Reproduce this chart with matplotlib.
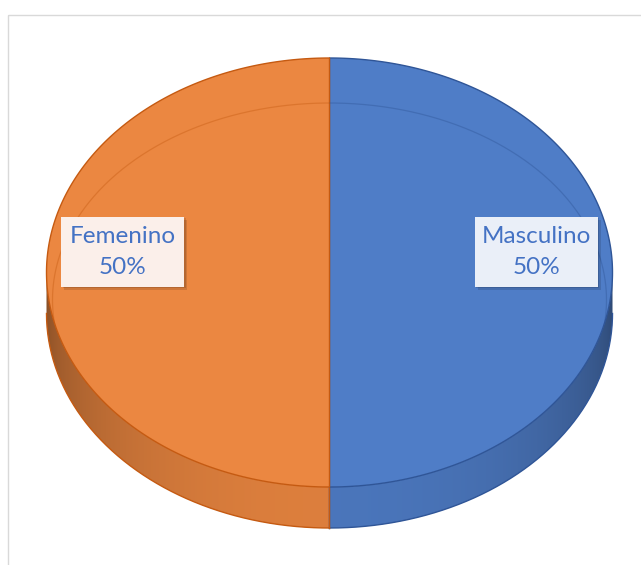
import numpy as np
import matplotlib
matplotlib.use("Agg")
import matplotlib.pyplot as plt
from matplotlib.patches import Polygon, Rectangle
from matplotlib.colors import to_rgb

plt.rcParams['font.family'] = ['Lato', 'DejaVu Sans']

# Data
categories = ["Masculino", "Femenino"]
values = [50, 50]
top_colors = ["#4F7DC7", "#EB8741"]
edge_colors = ["#2F5597", "#C55A11"]
label_fills = ["#EAEFF8", "#FBEFEA"]
text_color = "#4472C4"

W, H = 641, 565
fig = plt.figure(figsize=(W / 100, H / 100), dpi=100)
ax = fig.add_axes([0, 0, 1, 1])
ax.set_xlim(0, W)
ax.set_ylim(H, 0)
ax.axis("off")

# chart frame
ax.add_patch(Rectangle((7.5, 14.5), 700, 700, fill=False, edgecolor="#D9D9D9", lw=1.0, zorder=0))

# 3D pie geometry (pixel space, y downward)
cx, cy, a, b, depth = 329.5, 272.5, 283.0, 214.5, 41.0


def pt(t_deg, dy=0.0):
    t = np.radians(t_deg)
    return cx + a * np.cos(t), cy - b * np.sin(t) + dy


total = float(sum(values))
angles = []
start = 90.0
for v in values:
    sweep = 360.0 * v / total
    angles.append((start - sweep, start))
    start -= sweep

# shading of the side wall across x
xs = np.linspace(0, W, W + 1)
u = np.clip((xs - cx) / a, -1, 1)
face = np.sqrt(1 - u ** 2)
shade = 0.58 + 0.36 * face

for (t1, t2), col, ecol in zip(angles, top_colors, edge_colors):
    # side wall: the front half of each wedge (angles between 180 and 360)
    pieces = []
    for off in (-360, 0, 360):
        s = max(t1 + off, 180)
        e = min(t2 + off, 360)
        if e > s:
            pieces.append((s, e))
    for s, e in pieces:
        ts = np.linspace(s, e, 200)
        upper = [pt(t) for t in ts]
        lower = [pt(t, depth) for t in ts[::-1]]
        poly = Polygon(upper + lower, closed=True, facecolor="none", edgecolor="none")
        ax.add_patch(poly)
        rgb = np.array(to_rgb(col))
        img = (shade[:, None] * rgb[None, :])[None, :, :]
        im = ax.imshow(img, extent=(0, W, H, 0), aspect="auto", interpolation="bilinear", zorder=1)
        im.set_clip_path(poly)
        bx = [pt(t, depth) for t in ts]
        ax.plot([p[0] for p in bx], [p[1] for p in bx], color=ecol, lw=1.0, zorder=2)
        # vertical seams on the wall
        for tt in (s, e):
            if 180 < tt < 360:
                x0, y0 = pt(tt)
                ax.plot([x0, x0], [y0, y0 + depth], color=ecol, lw=1.0, zorder=2)

    # top face
    ts = np.linspace(t1, t2, 400)
    verts = [(cx, cy)] + [pt(t) for t in ts]
    top = Polygon(verts, closed=True, facecolor=col, edgecolor=ecol, lw=1.0, zorder=3, joinstyle="round")
    ax.add_patch(top)

    # bevel line on the top face
    ti = np.linspace(-9, 189, 400)
    bx_ = 329.5 + 277 * np.cos(np.radians(ti))
    by_ = 300 - 197 * np.sin(np.radians(ti))
    ln, = ax.plot(bx_, by_, color=ecol, lw=0.9, alpha=0.4, zorder=4)
    ln.set_clip_path(top)

# data labels
for (t1, t2), cat, v, fill in zip(angles, categories, values, label_fills):
    mid = np.radians((t1 + t2) / 2)
    lx = cx + 0.73 * a * np.cos(mid)
    ly = cy - 21
    bw, bh = 123, 70
    ax.add_patch(Rectangle((lx - bw / 2 + 3, ly - bh / 2 + 3), bw, bh, facecolor="#000000",
                           alpha=0.12, edgecolor="none", zorder=5))
    ax.add_patch(Rectangle((lx - bw / 2 + 1.5, ly - bh / 2 + 1.5), bw, bh, facecolor="#000000",
                           alpha=0.12, edgecolor="none", zorder=5))
    ax.add_patch(Rectangle((lx - bw / 2, ly - bh / 2), bw, bh, facecolor=fill,
                           edgecolor="none", zorder=6))
    pct = 100.0 * v / total
    ax.text(lx, ly - 15, cat, ha="center", va="center", fontsize=17.5, color=text_color, zorder=7)
    ax.text(lx, ly + 16, f"{pct:.0f}%", ha="center", va="center", fontsize=17.5, color=text_color, zorder=7)

fig.savefig("out.png", dpi=100)
